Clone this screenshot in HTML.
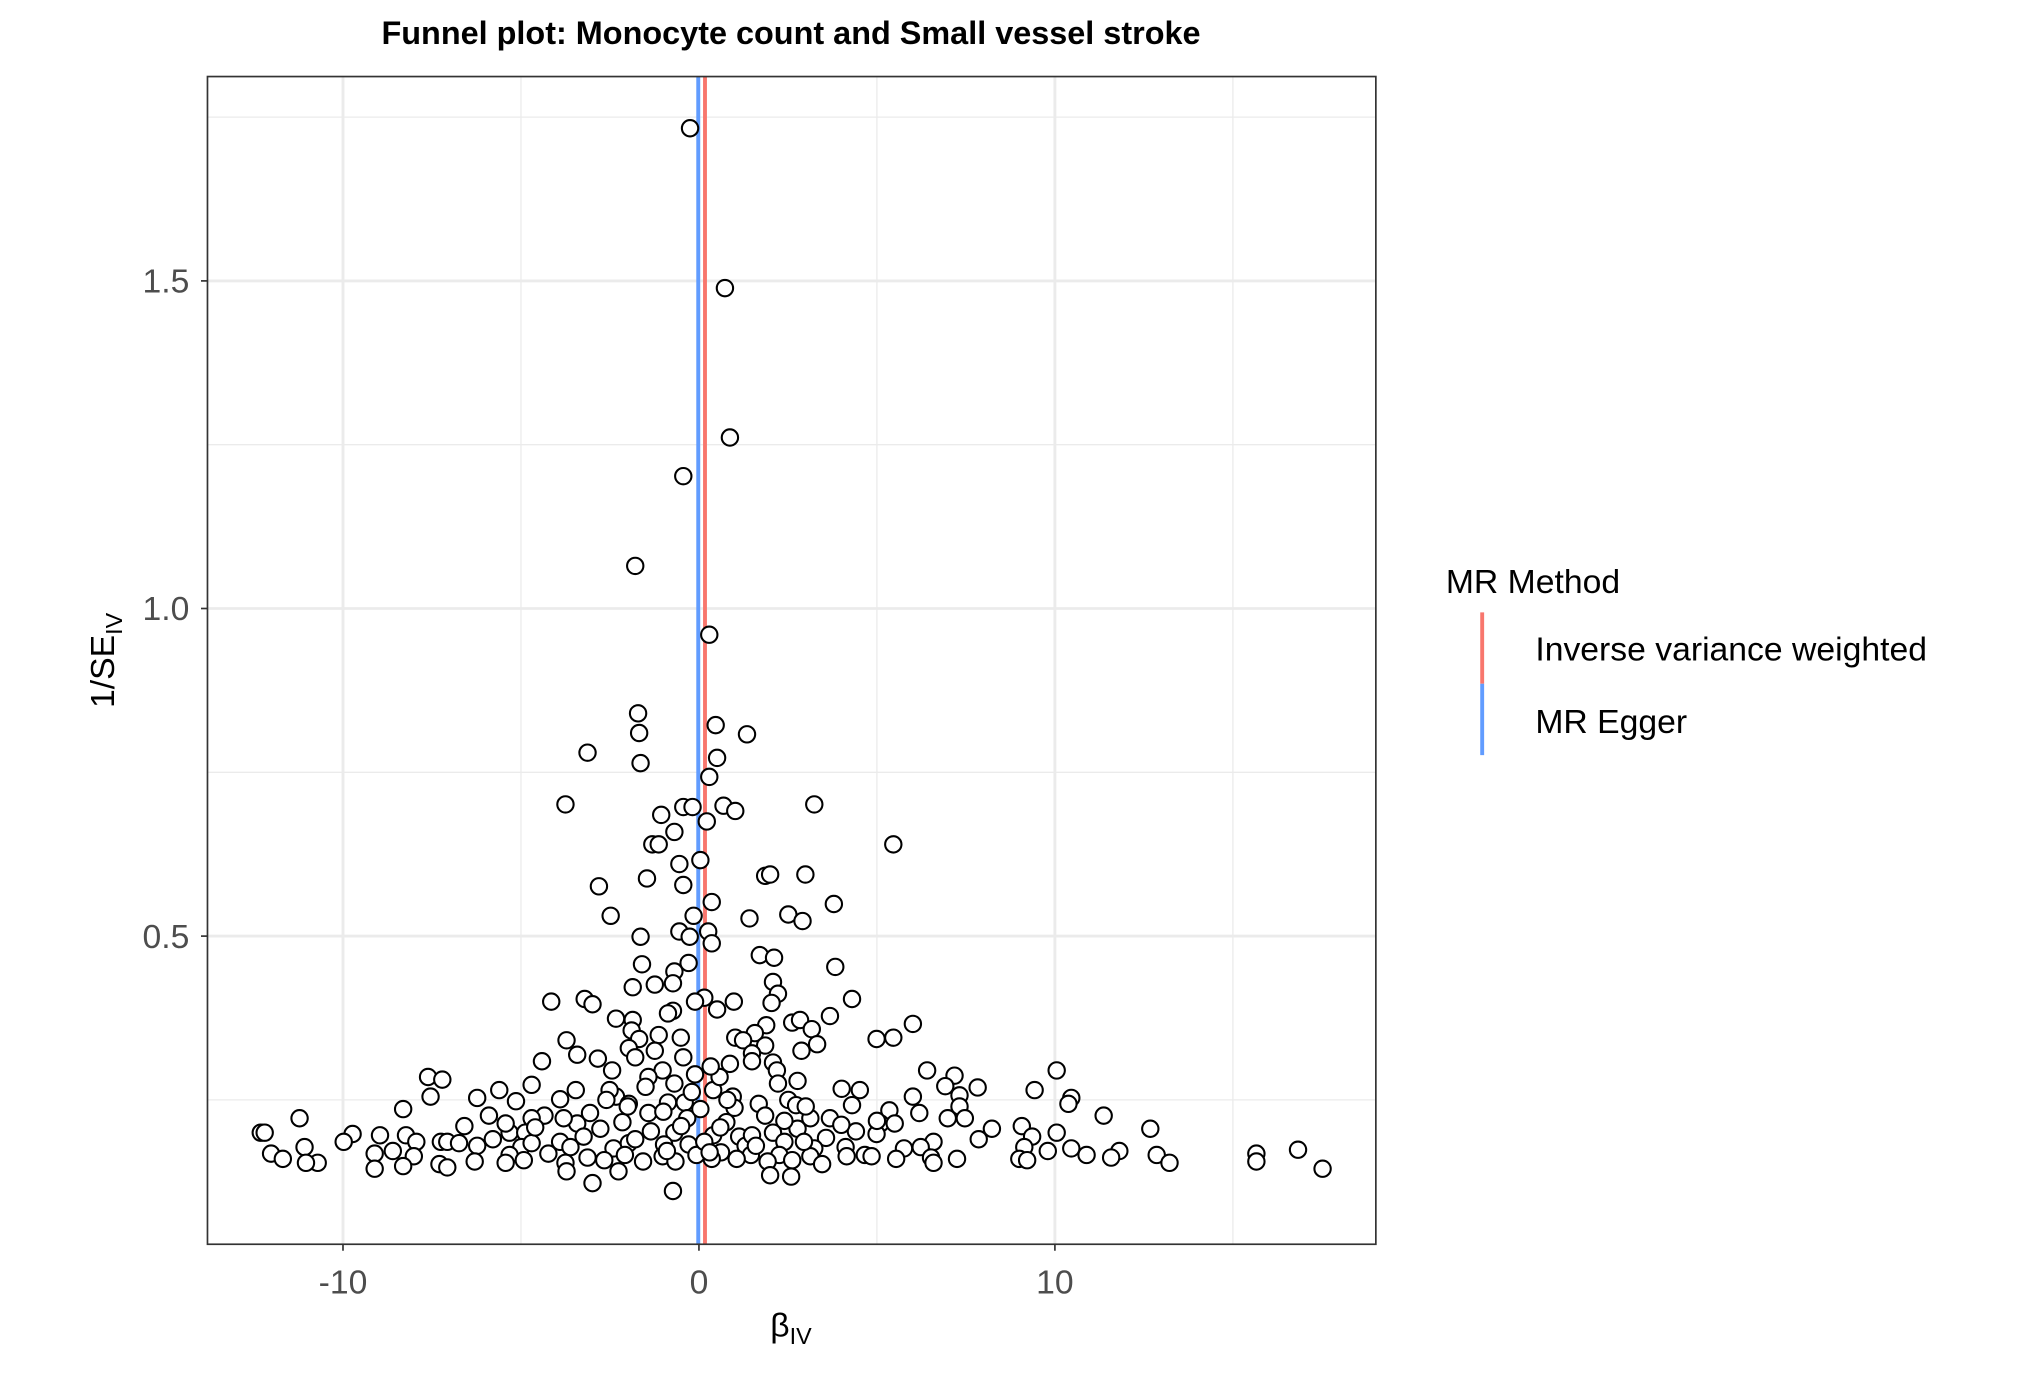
<!DOCTYPE html>
<html><head><meta charset="utf-8"><style>
html,body{margin:0;padding:0;background:#fff}
svg{display:block}
text{font-family:"Liberation Sans",sans-serif}
</style></head><body>
<svg id="chart" width="2032" height="1374" viewBox="0 0 1567 1059" preserveAspectRatio="none" xmlns="http://www.w3.org/2000/svg">
<rect width="1567" height="1059" fill="#fff"/>
<text x="610" y="34" text-anchor="middle" font-size="25" font-weight="bold" fill="#000">Funnel plot: Monocyte count and Small vessel stroke</text>
<g id="grid"></g>
<g id="vlines"></g>
<g id="points"></g>
<rect x="160" y="59" width="901" height="900" fill="none" stroke="#333" stroke-width="1.3"/>
<g id="axes"></g>
<text transform="translate(88,509) rotate(-90)" text-anchor="middle" font-size="26" fill="#000">1/SE<tspan font-size="18" dy="6">IV</tspan></text>
<text x="594" y="1030" font-size="26" fill="#000">β<tspan font-size="18" dy="6">IV</tspan></text>
<g>
<text x="1115" y="457" font-size="26" fill="#000">MR Method</text>
<line x1="1143" y1="472" x2="1143" y2="527" stroke="#F8766D" stroke-width="3"/>
<line x1="1143" y1="527" x2="1143" y2="582" stroke="#619CFF" stroke-width="3"/>
<text x="1184" y="509" font-size="26" fill="#000">Inverse variance weighted</text>
<text x="1184" y="565" font-size="26" fill="#000">MR Egger</text>
</g>
</svg>
<script>
const betas = [-0.25,0.73,0.87,-0.44,-1.79,0.29,-1.71,0.47,1.35,-1.68,-3.13,0.51,-1.64,0.29,-3.75,-0.44,-0.18,0.69,3.24,1.02,-1.06,0.22,-0.69,-1.31,-1.13,5.46,0.04,-0.55,1.86,2.0,2.99,-1.46,-0.44,-2.81,0.36,3.79,-2.48,2.51,1.42,-0.15,2.91,-0.55,-1.64,0.26,0.36,-0.26,1.71,2.11,-1.60,-0.29,3.83,-0.69,2.08,-0.73,-1.24,-1.86,2.22,-4.15,-3.21,-2.99,0.98,0.15,-0.11,4.30,2.04,0.51,-0.73,-0.87,-1.86,-2.33,2.62,2.84,3.68,6.01,1.89,1.57,1.02,1.24,-1.89,-1.13,-0.51,3.17,-3.72,-1.68,4.99,5.46,3.32,2.88,1.86,1.49,1.49,-1.97,-4.41,-3.42,-2.84,-1.79,2.08,0.87,2.19,6.41,7.18,10.05,-7.61,-7.21,-4.70,-2.44,-1.02,-0.11,2.77,4.01,4.52,6.92,7.83,9.43,0.40,-7.54,-6.23,-5.61,-3.46,-2.33,6.01,7.32,10.46,10.38,-8.31,-5.14,-3.90,-1.97,-0.40,2.51,2.73,5.35,4.30,7.32,-5.90,-4.34,-3.06,-11.22,11.37,12.68,8.23,9.07,6.99,7.47,6.19,5.10,5.50,-12.31,-12.20,-9.73,-8.96,-8.23,-6.59,-5.79,-5.32,-4.88,-3.90,-2.77,-1.35,-0.69,0.40,1.13,2.08,3.57,4.41,4.99,6.59,7.86,9.36,10.05,-9.98,-7.94,-7.25,-7.07,-6.74,-6.23,-4.99,-4.70,-3.61,-2.40,-1.97,-0.98,-0.29,1.31,2.40,3.24,4.12,5.76,6.23,9.14,9.80,10.46,11.81,15.66,16.83,-12.02,-11.08,-9.11,-8.60,-8.01,-5.32,-4.23,-3.13,-2.08,-1.02,-0.07,0.62,1.46,2.26,3.13,4.15,4.66,5.54,6.52,7.25,9.00,9.22,10.89,11.58,12.86,-11.69,-10.71,-11.04,-7.29,-6.30,-5.43,-4.92,-3.75,-2.66,-1.57,-0.66,0.36,1.06,1.93,2.62,3.46,4.85,6.59,13.22,15.66,17.52,-9.11,-8.31,-7.07,-3.72,-2.26,2.0,2.59,-2.99,-0.73,-1.42,-0.69,0.58,0.95,1.68,-1.42,-0.33,0.77,1.86,3.13,-2.15,-3.42,-4.70,-5.43,0.04,-0.87,3.68,2.77,1.49,-1.79,-3.24,0.15,2.95,2.22,-2.51,-0.44,0.33,-1.24,-0.5,0.6,-1.0,1.0,-2.0,2.4,-0.2,0.8,-1.5,1.6,-2.6,3.0,-3.8,4.0,-4.6,5.0,-0.9,0.3];
const invSE = [1.733,1.489,1.261,1.202,1.065,0.960,0.840,0.822,0.808,0.810,0.780,0.772,0.764,0.743,0.701,0.697,0.697,0.699,0.701,0.691,0.685,0.675,0.659,0.640,0.640,0.640,0.616,0.610,0.592,0.594,0.594,0.588,0.578,0.576,0.552,0.549,0.531,0.533,0.527,0.531,0.523,0.507,0.499,0.507,0.489,0.499,0.471,0.467,0.457,0.459,0.453,0.446,0.430,0.428,0.426,0.422,0.412,0.400,0.404,0.396,0.400,0.406,0.400,0.404,0.398,0.388,0.386,0.382,0.372,0.374,0.368,0.372,0.378,0.366,0.364,0.352,0.345,0.341,0.356,0.349,0.345,0.358,0.341,0.343,0.343,0.345,0.335,0.325,0.333,0.321,0.309,0.329,0.309,0.319,0.313,0.315,0.307,0.305,0.295,0.295,0.287,0.295,0.285,0.281,0.273,0.295,0.295,0.289,0.279,0.267,0.265,0.271,0.269,0.265,0.265,0.255,0.253,0.265,0.265,0.255,0.255,0.257,0.253,0.244,0.236,0.248,0.251,0.244,0.246,0.250,0.242,0.234,0.242,0.240,0.226,0.226,0.230,0.222,0.226,0.206,0.206,0.210,0.222,0.222,0.230,0.214,0.214,0.200,0.200,0.198,0.196,0.196,0.210,0.190,0.200,0.200,0.186,0.206,0.202,0.200,0.196,0.194,0.200,0.192,0.202,0.198,0.186,0.190,0.194,0.200,0.186,0.186,0.186,0.186,0.184,0.180,0.178,0.184,0.178,0.176,0.184,0.182,0.182,0.180,0.186,0.176,0.178,0.176,0.178,0.178,0.172,0.176,0.172,0.168,0.174,0.168,0.178,0.168,0.172,0.164,0.166,0.168,0.162,0.166,0.164,0.166,0.170,0.166,0.166,0.164,0.164,0.166,0.160,0.162,0.160,0.160,0.158,0.166,0.162,0.166,0.160,0.154,0.154,0.152,0.156,0.154,0.158,0.154,0.158,0.156,0.156,0.160,0.160,0.156,0.158,0.152,0.164,0.154,0.154,0.156,0.145,0.145,0.149,0.147,0.141,0.141,0.135,0.133,0.123,0.111,0.285,0.275,0.285,0.255,0.244,0.230,0.222,0.216,0.226,0.222,0.216,0.214,0.222,0.214,0.236,0.246,0.222,0.206,0.196,0.190,0.194,0.186,0.186,0.275,0.265,0.315,0.301,0.325,0.210,0.208,0.232,0.238,0.240,0.218,0.262,0.250,0.270,0.180,0.250,0.240,0.222,0.212,0.208,0.218,0.172,0.170];
const methodNames = ["Inverse variance weighted","MR Egger"];
const methodBetas = [0.17,-0.02];
const methodColors = ["#F8766D","#619CFF"];
const xTicks = [-10,0,10];
const xMinor = [-5,5,15];
const yTicks = [0.5,1.0,1.5];
const yMinor = [0.25,0.75,1.25,1.75];
const yTickLabels = ["0.5","1.0","1.5"];
const xTickLabels = ["-10","0","10"];

const NS="http://www.w3.org/2000/svg";
const PX0=160,PX1=1061,PY0=59,PY1=959;
const xs = v => 539 + v*27.45;
const ys = v => 974 - v*505;
function mk(tag,parent,attrs){const e=document.createElementNS(NS,tag);for(const k in attrs)e.setAttribute(k,attrs[k]);parent.appendChild(e);return e;}
const grid=document.getElementById('grid');
xMinor.forEach(v=>{const e=mk('line',grid,{x1:xs(v),x2:xs(v),y1:PY0,y2:PY1,stroke:'#ebebeb','stroke-width':1});

});
yMinor.forEach(v=>{const e=mk('line',grid,{x1:PX0,x2:PX1,y1:ys(v),y2:ys(v),stroke:'#ebebeb','stroke-width':1});

});
xTicks.forEach(v=>{const e=mk('line',grid,{x1:xs(v),x2:xs(v),y1:PY0,y2:PY1,stroke:'#ebebeb','stroke-width':2.2});

});
yTicks.forEach(v=>{const e=mk('line',grid,{x1:PX0,x2:PX1,y1:ys(v),y2:ys(v),stroke:'#ebebeb','stroke-width':2.2});

});
const vl=document.getElementById('vlines');
methodBetas.forEach((b,i)=>{const e=mk('line',vl,{x1:xs(b),x2:xs(b),y1:PY0,y2:PY1,stroke:methodColors[i],'stroke-width':3});

});
const pg=document.getElementById('points');
betas.forEach((b,i)=>{const c=mk('circle',pg,{cx:xs(b),cy:ys(invSE[i]),r:6.3,fill:'#fff',stroke:'#000','stroke-width':1.6});

});
const ax=document.getElementById('axes');
xTicks.forEach((v,i)=>{const t=mk('line',ax,{x1:xs(v),x2:xs(v),y1:PY1,y2:PY1+5,stroke:'#333','stroke-width':1.3});


const l=mk('text',ax,{x:xs(v),y:997,'text-anchor':'middle','font-size':26,fill:'#4d4d4d'});l.textContent=xTickLabels[i];

});
yTicks.forEach((v,i)=>{const t=mk('line',ax,{x1:PX0-5,x2:PX0,y1:ys(v),y2:ys(v),stroke:'#333','stroke-width':1.3});


const l=mk('text',ax,{x:PX0-14,y:ys(v)+9,'text-anchor':'end','font-size':26,fill:'#4d4d4d'});l.textContent=yTickLabels[i];

});
</script>
</body></html>
